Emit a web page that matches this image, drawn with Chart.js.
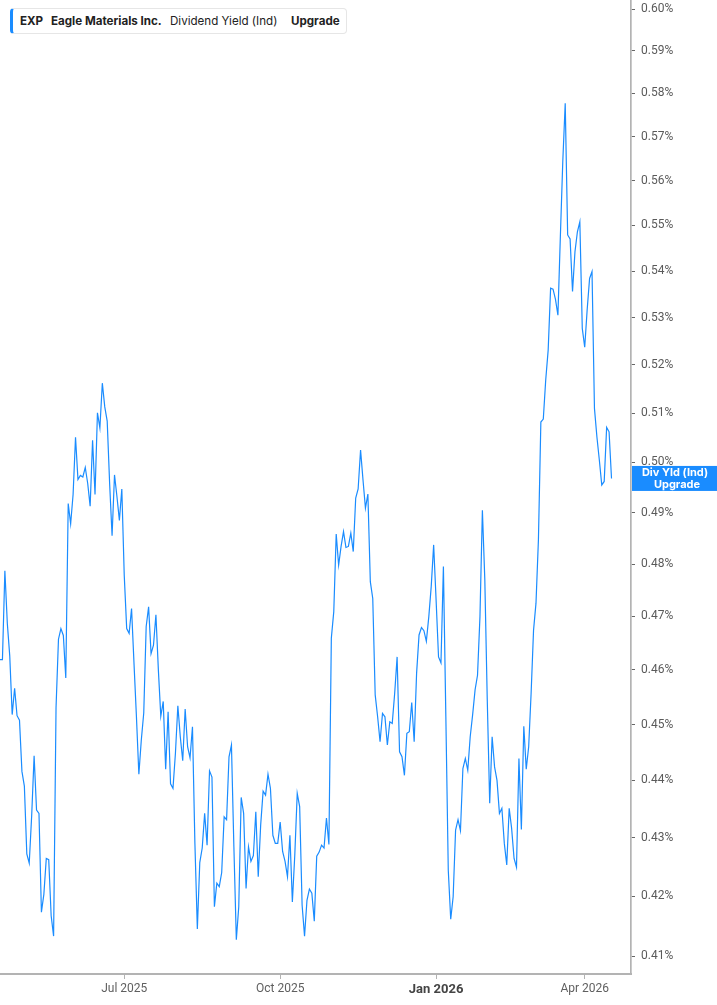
<!DOCTYPE html>
<html>
<head>
<meta charset="utf-8">
<title>EXP Dividend Yield</title>
<script src="https://cdn.jsdelivr.net/npm/chart.js@4.4.1/dist/chart.umd.min.js"></script>
<style>
  body { margin: 0; background: #fff; }
  #wrap { position: relative; width: 717px; height: 1005px; }
  #legendBox {
    position: absolute; left: 10px; top: 8px; width: 333px; height: 24px;
    border: 1px solid #e6e6e6; border-left: 3px solid #1a8cff; border-radius: 4px;
    background: #fff; font-family: Inter, "Noto Sans", sans-serif; font-size: 11.6px; color: #222;
  }
  #legendBox span { position: absolute; top: 5px; line-height: 14px; white-space: nowrap; }
  .b { font-weight: 700; }
</style>
</head>
<body>
<div id="wrap">
  <canvas id="yieldChart" width="717" height="1005"></canvas>
  <div id="legendBox">
    <span class="b" style="left:7px">EXP</span>
    <span class="b" style="left:38px">Eagle Materials Inc.</span>
    <span style="left:157px">Dividend Yield (Ind)</span>
    <span class="b" style="left:278px">Upgrade</span>
  </div>
</div>
<script>
// daily dividend yield (%), one value per trading day from 2025-04-17
const yieldValues = [
  0.4619, 0.4619, 0.4787, 0.4687, 0.4626, 0.4518, 0.4566, 0.4516, 0.4508, 0.4416,
  0.4390, 0.4272, 0.4256, 0.4338, 0.4444, 0.4348, 0.4342, 0.4173, 0.4203, 0.4264,
  0.4262, 0.4167, 0.4133, 0.4531, 0.4657, 0.4677, 0.4664, 0.4585, 0.4918, 0.4878,
  0.4936, 0.5051, 0.4966, 0.4974, 0.4971, 0.4990, 0.4958, 0.4913, 0.5045, 0.4936,
  0.5101, 0.5070, 0.5162, 0.5113, 0.5084, 0.4958, 0.4855, 0.4975, 0.4932, 0.4885,
  0.4947, 0.4778, 0.4677, 0.4668, 0.4715, 0.4612, 0.4514, 0.4411, 0.4472, 0.4521,
  0.4681, 0.4718, 0.4630, 0.4646, 0.4703, 0.4600, 0.4515, 0.4542, 0.4420, 0.4523,
  0.4394, 0.4386, 0.4448, 0.4534, 0.4478, 0.4435, 0.4528, 0.4460, 0.4440, 0.4496,
  0.4290, 0.4145, 0.4257, 0.4282, 0.4342, 0.4287, 0.4417, 0.4406, 0.4182, 0.4222,
  0.4216, 0.4240, 0.4336, 0.4331, 0.4442, 0.4463, 0.4284, 0.4127, 0.4182, 0.4370,
  0.4342, 0.4213, 0.4284, 0.4259, 0.4269, 0.4345, 0.4233, 0.4322, 0.4381, 0.4374,
  0.4411, 0.4386, 0.4304, 0.4290, 0.4290, 0.4327, 0.4276, 0.4259, 0.4233, 0.4304,
  0.4190, 0.4270, 0.4377, 0.4354, 0.4185, 0.4133, 0.4193, 0.4212, 0.4205, 0.4158,
  0.4268, 0.4275, 0.4287, 0.4282, 0.4334, 0.4288, 0.4659, 0.4709, 0.4858, 0.4798,
  0.4834, 0.4863, 0.4832, 0.4834, 0.4860, 0.4824, 0.4929, 0.4947, 0.5025, 0.4965,
  0.4909, 0.4937, 0.4766, 0.4734, 0.4554, 0.4514, 0.4469, 0.4520, 0.4514, 0.4463,
  0.4505, 0.4502, 0.4557, 0.4624, 0.4451, 0.4442, 0.4409, 0.4484, 0.4487, 0.4540,
  0.4469, 0.4594, 0.4665, 0.4679, 0.4673, 0.4653, 0.4699, 0.4757, 0.4837, 0.4731,
  0.4624, 0.4613, 0.4795, 0.4515, 0.4244, 0.4161, 0.4199, 0.4313, 0.4331, 0.4312,
  0.4421, 0.4439, 0.4418, 0.4478, 0.4518, 0.4563, 0.4590, 0.4699, 0.4905, 0.4769,
  0.4545, 0.4360, 0.4478, 0.4424, 0.4400, 0.4342, 0.4351, 0.4290, 0.4253, 0.4351,
  0.4316, 0.4264, 0.4249, 0.4439, 0.4314, 0.4497, 0.4420, 0.4460, 0.4557, 0.4674,
  0.4725, 0.4847, 0.5082, 0.5088, 0.5169, 0.5231, 0.5363, 0.5361, 0.5339, 0.5305,
  0.5475, 0.5643, 0.5777, 0.5479, 0.5470, 0.5356, 0.5442, 0.5486, 0.5508, 0.5277,
  0.5237, 0.5316, 0.5384, 0.5399, 0.5110, 0.5052, 0.5005, 0.4955, 0.4962, 0.5071,
  0.5062, 0.4968
];

const startDate = '2025-04-17';
const holidays = ['2025-05-26', '2025-06-19', '2025-07-04', '2025-09-01', '2025-11-27',
  '2025-12-25', '2026-01-01', '2026-01-19', '2026-02-16', '2026-04-03'];

const xTickDates = ['2025-07-01', '2025-10-01', '2026-01-02', '2026-04-01'];
const xTickLabels = ['Jul 2025', 'Oct 2025', 'Jan 2026', 'Apr 2026'];
const yTicks = [0.41, 0.42, 0.43, 0.44, 0.45, 0.46, 0.47, 0.48, 0.49, 0.50,
  0.51, 0.52, 0.53, 0.54, 0.55, 0.56, 0.57, 0.58, 0.59, 0.60];
const lastLabelLines = ['Div Yld (Ind)', 'Upgrade'];

const blue = '#1a8cff';
const axisGray = '#b3b3b3';

function tradingDays(start, count) {
  const out = [];
  const d = new Date(start + 'T12:00:00Z');
  while (out.length < count) {
    const iso = d.toISOString().slice(0, 10);
    const wd = d.getUTCDay();
    if (wd !== 0 && wd !== 6 && !holidays.includes(iso)) out.push(iso);
    d.setUTCDate(d.getUTCDate() + 1);
  }
  return out;
}

const dates = tradingDays(startDate, yieldValues.length);

// blue tag on the right axis at the last value
const lastLabel = {
  id: 'lastLabel',
  afterDraw(chart) {
    const ctx = chart.ctx;
    const y = chart.scales.y.getPixelForValue(yieldValues[yieldValues.length - 1]);
    const left = chart.chartArea.right + 1;
    ctx.save();
    ctx.fillStyle = blue;
    ctx.fillRect(left, y - 12.5, chart.width - left, 25);
    ctx.fillStyle = '#fff';
    ctx.font = 'bold 11px Inter';
    ctx.textAlign = 'center';
    ctx.textBaseline = 'middle';
    ctx.fillText(lastLabelLines[0], 675, y - 5.5);
    ctx.fillText(lastLabelLines[1], 677, y + 6);
    ctx.restore();
  }
};

function draw() {
  const ctx = document.getElementById('yieldChart').getContext('2d');
  new Chart(ctx, {
    type: 'line',
    data: {
      datasets: [{
        label: 'Dividend Yield (Ind)',
        data: yieldValues.map((v, i) => ({ x: i, y: v })),
        borderColor: blue,
        borderWidth: 1.2,
        pointRadius: 0,
        tension: 0,
        fill: false
      }]
    },
    options: {
      responsive: false,
      animation: false,
      devicePixelRatio: 1,
      layout: { padding: 0 },
      plugins: { legend: { display: false }, tooltip: { enabled: false } },
      scales: {
        x: {
          type: 'linear',
          min: 0,
          max: 259,
          afterBuildTicks: s => { s.ticks = xTickDates.map(d => ({ value: dates.indexOf(d) })); },
          afterFit: s => { s.height = 31; },
          ticks: {
            autoSkip: false,
            maxRotation: 0,
            padding: 3,
            callback: v => xTickLabels[xTickDates.indexOf(dates[v])],
            color: c => (c.index === 2 ? '#444' : '#5f5f5f'),
            font: c => (c.index === 2
              ? { family: 'Roboto', size: 13, weight: 'bold' }
              : { family: 'Roboto', size: 12 })
          },
          grid: { drawOnChartArea: false, tickLength: 5, color: axisGray },
          border: { color: axisGray, width: 2 }
        },
        y: {
          type: 'logarithmic',
          position: 'right',
          min: 0.40705,
          max: 0.60218,
          afterBuildTicks: s => { s.ticks = yTicks.map(v => ({ value: v })); },
          afterFit: s => { s.width = 86; s.paddingTop = 0; s.paddingBottom = 0; },
          ticks: {
            autoSkip: false,
            padding: 6,
            color: '#5a5a5a',
            font: { family: 'Roboto', size: 12 },
            callback: v => v.toFixed(2) + '%'
          },
          grid: { drawOnChartArea: false, tickLength: 4, color: '#666' },
          border: { color: axisGray, width: 1.7 }
        }
      }
    },
    plugins: [lastLabel]
  });
}

Promise.all([
  document.fonts.load('12px Roboto'),
  document.fonts.load('bold 12px Roboto'),
  document.fonts.load('bold 11px Inter'),
  document.fonts.load('12px Inter')
]).then(draw, draw);
</script>
</body>
</html>
